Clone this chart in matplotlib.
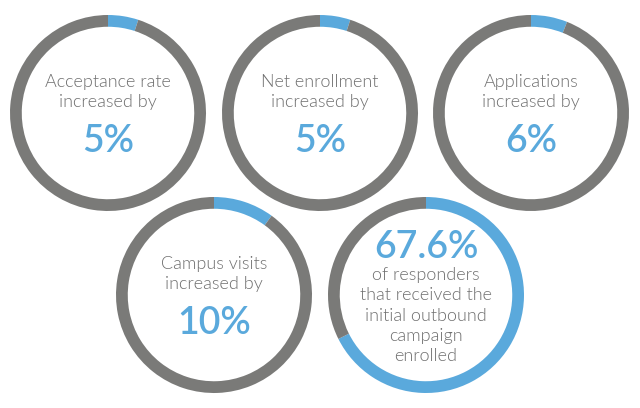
import matplotlib
matplotlib.use("Agg")
import matplotlib.pyplot as plt

# values
labels = ["Acceptance rate\nincreased by", "Net enrollment\nincreased by", "Applications\nincreased by",
          "Campus visits\nincreased by", None]
values = [5, 5, 6, 10, 67.6]
value_text = ["5%", "5%", "6%", "10%", "67.6%"]
last_text = "of responders\nthat received the\ninitial outbound\ncampaign\nenrolled"

plt.rcParams['font.family'] = ['Lato', 'DejaVu Sans']

GREY = "#7a7a78"
BLUE = "#5aa9dc"
TXT = "#6f6f6f"
W, H = 640, 408
centers = [(108, 113), (320, 113), (531, 113), (214, 295), (426, 295)]
R = 98

fig = plt.figure(figsize=(W / 100, H / 100), dpi=100)

for i in range(5):
    cx, cy = centers[i]
    ax = fig.add_axes([(cx - R) / W, 1 - (cy + R) / H, 2 * R / W, 2 * R / H])
    ax.pie([values[i], 100 - values[i]], colors=[BLUE, GREY], startangle=90, counterclock=False,
           radius=1, wedgeprops=dict(width=0.12, linewidth=0))
    ax.set_xlim(-1, 1)
    ax.set_ylim(-1, 1)
    ax.axis("off")
    if labels[i] is not None:
        ax.text(0, 0.21, labels[i], ha="center", va="center", fontsize=13, color=TXT,
                linespacing=1.3, fontweight=300)
        ax.text(0, -0.29, value_text[i], ha="center", va="center", fontsize=27, color=BLUE, fontweight=600)
    else:
        ax.text(0, 0.48, value_text[i], ha="center", va="center", fontsize=27, color=BLUE, fontweight=600)
        ax.text(0, -0.21, last_text, ha="center", va="center", fontsize=13, color=TXT,
                linespacing=1.33, fontweight=300)

fig.savefig("out.png", dpi=100)
